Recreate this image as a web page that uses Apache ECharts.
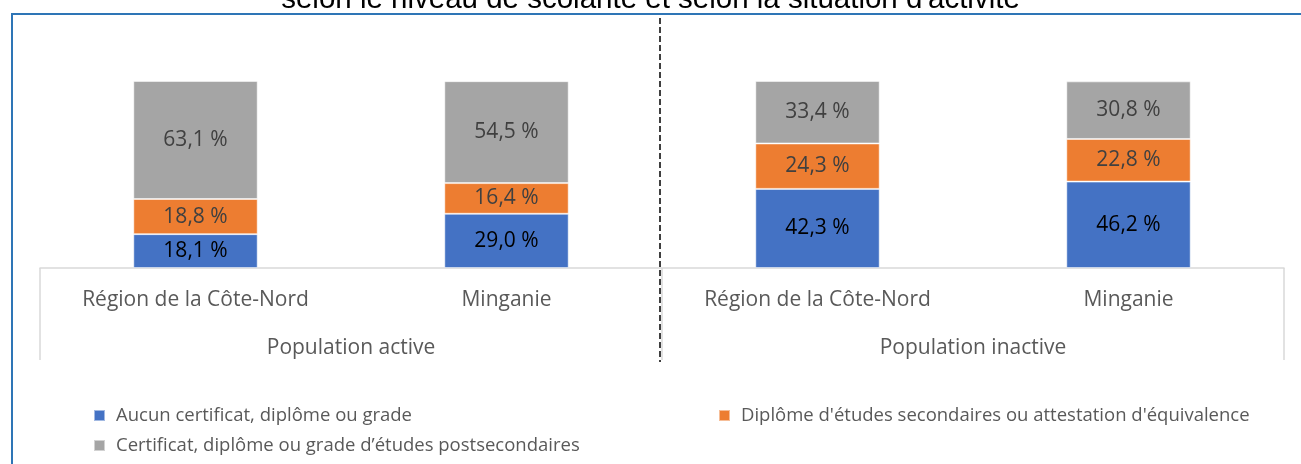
<!DOCTYPE html>
<html>
<head>
<meta charset="utf-8">
<script src="https://cdn.jsdelivr.net/npm/echarts@6/dist/echarts.min.js"></script>
<style>
  html, body { margin: 0; padding: 0; background: #fff; }
  #chart { width: 1301px; height: 464px; }
</style>
</head>
<body>
<div id="chart"></div>
<script>
// categories
const regions = ['Région de la Côte-Nord', 'Minganie', 'Région de la Côte-Nord', 'Minganie'];
const groups = ['Population active', 'Population inactive'];

// series values (%)
const aucun = [18.1, 29.0, 42.3, 46.2];
const secondaire = [18.8, 16.4, 24.3, 22.8];
const postsec = [63.1, 54.5, 33.4, 30.8];

const names = [
    'Aucun certificat, diplôme ou grade',
    "Diplôme d'études secondaires ou attestation d'équivalence",
    'Certificat, diplôme ou grade d’études postsecondaires'
];
const colors = ['#4472c4', '#ed7d31', '#a5a5a5'];
const labelColors = ['#000000', '#404040', '#404040'];

const font = '"Open Sans", "Noto Sans", sans-serif';

function fmt(p) {
    return p.value.toFixed(1).replace('.', ',') + ' %';
}

let chart = echarts.init(document.getElementById('chart'));

let option = {
    animation: false,
    title: {
        text: "selon le niveau de scolarité et selon la situation d'activité",
        left: 'center',
        top: -20,
        textStyle: {
            fontFamily: '"Liberation Sans", Arial, sans-serif',
            fontSize: 29.5,
            fontWeight: 'normal',
            color: '#000'
        }
    },
    legend: [
        {
            left: 88, top: 401,
            data: [names[0]]
        },
        {
            left: 713, top: 401,
            data: [names[1]]
        },
        {
            left: 88, top: 431,
            data: [names[2]]
        }
    ].map(function (l) {
        return Object.assign({
            icon: 'rect',
            itemWidth: 11,
            itemHeight: 11,
            textStyle: { fontFamily: font, fontSize: 18.5, color: '#595959', padding: [0, 0, 0, 6] }
        }, l);
    }),
    grid: {
        left: 40,
        right: 17,
        top: 81,
        bottom: 196
    },
    xAxis: [
        {
            type: 'category',
            data: regions,
            axisLine: { lineStyle: { color: '#d9d9d9', width: 1.5 } },
            axisTick: { show: false },
            axisLabel: {
                interval: 0,
                margin: 22,
                fontFamily: font,
                fontSize: 21,
                color: '#595959'
            }
        },
        {
            type: 'category',
            data: groups,
            position: 'bottom',
            axisLine: { show: false },
            axisTick: {
                show: true,
                interval: 0,
                length: 92,
                lineStyle: { color: '#d9d9d9', width: 1.5 }
            },
            axisLabel: {
                interval: 0,
                margin: 70,
                fontFamily: font,
                fontSize: 21,
                color: '#595959'
            }
        }
    ],
    yAxis: {
        type: 'value',
        show: false,
        min: 0,
        max: 100,
        splitLine: { show: false }
    },
    series: [aucun, secondaire, postsec].map(function (d, i) {
        return {
            name: names[i],
            type: 'bar',
            stack: 'total',
            barWidth: '40%',
            data: d,
            itemStyle: {
                color: colors[i],
                borderColor: 'rgba(255,255,255,0.5)',
                borderWidth: 1
            },
            label: {
                show: true,
                position: 'inside',
                formatter: fmt,
                fontFamily: font,
                fontSize: 21,
                color: labelColors[i]
            }
        };
    }),
    graphic: [
        {
            type: 'rect',
            shape: { x: 12, y: 14, width: 1400, height: 600 },
            style: { fill: 'none', stroke: '#2e75b6', lineWidth: 2 },
            silent: true
        },
        {
            type: 'line',
            shape: { x1: 660, y1: 18, x2: 660, y2: 362 },
            style: { stroke: '#000', lineWidth: 1.5, lineDash: [6, 3] },
            silent: true
        }
    ]
};

chart.setOption(option);
</script>
</body>
</html>
